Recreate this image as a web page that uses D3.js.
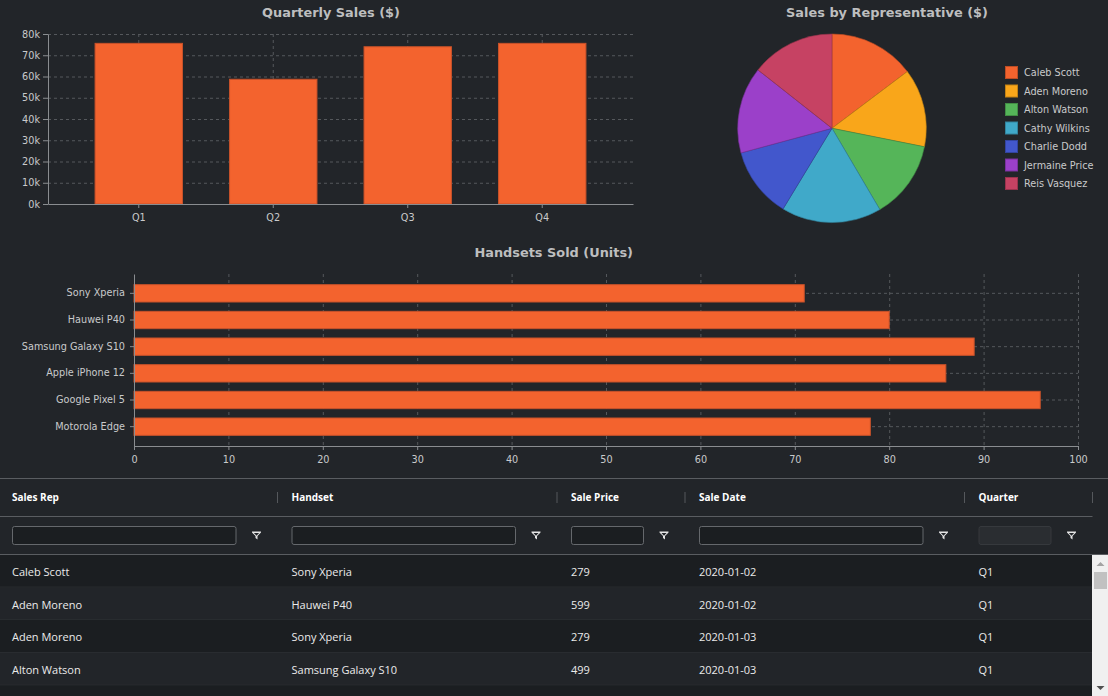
<!DOCTYPE html>
<html>
<head>
<meta charset="utf-8">
<script src="https://cdn.jsdelivr.net/npm/d3@7"></script>
<style>
  html, body { margin: 0; padding: 0; background: #222529; overflow: hidden; }
  svg { display: block; }
</style>
</head>
<body>
<svg id="dash" width="1108" height="696"></svg>
<script>
// chart values
const quarters = ["Q1", "Q2", "Q3", "Q4"];
const quarterlySales = [75600, 58700, 74000, 75600];
const salesTicks = [0, 10000, 20000, 30000, 40000, 50000, 60000, 70000, 80000];

const reps = ["Caleb Scott", "Aden Moreno", "Alton Watson", "Cathy Wilkins", "Charlie Dodd", "Jermaine Price", "Reis Vasquez"];
const repSales = [41800, 38100, 38000, 48700, 34400, 42100, 40800];
const repColors = ["#f3632e", "#f9a61a", "#55b559", "#40a9c9", "#4257cc", "#9b40c9", "#c64263"];

const handsets = ["Sony Xperia", "Hauwei P40", "Samsung Galaxy S10", "Apple iPhone 12", "Google Pixel 5", "Motorola Edge"];
const unitsSold = [71, 80, 89, 86, 96, 78];
const unitTicks = [0, 10, 20, 30, 40, 50, 60, 70, 80, 90, 100];

const columns = ["Sales Rep", "Handset", "Sale Price", "Sale Date", "Quarter"];
const rowReps = ["Caleb Scott", "Aden Moreno", "Aden Moreno", "Alton Watson"];
const rowHandsets = ["Sony Xperia", "Hauwei P40", "Sony Xperia", "Samsung Galaxy S10"];
const rowPrices = [279, 599, 279, 499];
const rowDates = ["2020-01-02", "2020-01-02", "2020-01-03", "2020-01-03"];
const rowQuarters = ["Q1", "Q1", "Q1", "Q1"];

const barColor = "#f3632e";
const gridColor = "#55585c";
const axisColor = "#8a8d90";
const labelColor = "#c9cacb";
const chartFont = "'DejaVu Sans', Verdana, sans-serif";
const tableFont = "'Open Sans', 'Noto Sans', sans-serif";

const svg = d3.select("#dash");

const title = (x, y, txt) => svg.append("text")
  .attr("x", x).attr("y", y)
  .attr("text-anchor", "middle")
  .attr("font-family", chartFont)
  .attr("font-weight", "bold")
  .attr("font-size", 12.9)
  .attr("fill", "#bdbebf")
  .text(txt);

const styleAxis = (g) => {
  g.select(".domain").attr("stroke", axisColor);
  g.selectAll(".tick line").attr("stroke", axisColor);
  g.selectAll(".tick text")
    .attr("fill", labelColor)
    .attr("font-family", chartFont)
    .attr("font-size", 9.7);
};

// ---- quarterly sales (vertical bars)
{
  const left = 48, right = 633, top = 34, bottom = 204;
  const x = d3.scaleBand().domain(quarters).range([left, right]).padding(0.35);
  const y = d3.scaleLinear().domain([0, 80000]).range([bottom, top]);

  title(331, 16.5, "Quarterly Sales ($)");

  const grid = svg.append("g").attr("stroke", gridColor).attr("stroke-dasharray", "3,3");
  grid.selectAll("line.h").data(salesTicks.slice(1)).enter().append("line")
    .attr("x1", left).attr("x2", right)
    .attr("y1", d => y(d) + 0.5).attr("y2", d => y(d) + 0.5);
  grid.selectAll("line.v").data(quarters).enter().append("line")
    .attr("x1", d => x(d) + x.bandwidth() / 2).attr("x2", d => x(d) + x.bandwidth() / 2)
    .attr("y1", top).attr("y2", bottom);

  svg.append("g").selectAll("rect").data(quarters).enter().append("rect")
    .attr("x", d => x(d))
    .attr("y", (d, i) => y(quarterlySales[i]))
    .attr("width", x.bandwidth())
    .attr("height", (d, i) => bottom - y(quarterlySales[i]))
    .attr("fill", barColor)
    .attr("stroke", "#c8522a")
    .attr("stroke-width", 1);

  svg.append("g")
    .attr("transform", "translate(0," + bottom + ")")
    .call(d3.axisBottom(x).tickSize(4).tickPadding(6).tickSizeOuter(0))
    .call(styleAxis);
  svg.append("g")
    .attr("transform", "translate(" + left + ",0)")
    .call(d3.axisLeft(y).tickValues(salesTicks).tickSize(5).tickPadding(3).tickSizeOuter(0)
      .tickFormat(d => (d / 1000) + "k"))
    .call(styleAxis);
}

// ---- sales by rep (pie)
{
  const cx = 832, cy = 128.3, r = 94.3;
  title(887, 16.5, "Sales by Representative ($)");

  const pie = d3.pie().sort(null).value(d => d);
  const arc = d3.arc().innerRadius(0).outerRadius(r);

  svg.append("g")
    .attr("transform", "translate(" + cx + "," + cy + ")")
    .selectAll("path").data(pie(repSales)).enter().append("path")
    .attr("d", arc)
    .attr("fill", (d, i) => repColors[i])
    .attr("stroke", (d, i) => d3.color(repColors[i]).darker(0.8))
    .attr("stroke-width", 0.6);

  const legend = svg.append("g").attr("transform", "translate(1005,66)");
  const item = legend.selectAll("g").data(reps).enter().append("g")
    .attr("transform", (d, i) => "translate(0," + (i * 18.5) + ")");
  item.append("rect")
    .attr("x", 0.5).attr("y", 0.5).attr("width", 12).attr("height", 12)
    .attr("fill", (d, i) => repColors[i])
    .attr("stroke", (d, i) => d3.color(repColors[i]).darker(0.7));
  item.append("text")
    .attr("x", 19).attr("y", 10)
    .attr("font-family", chartFont)
    .attr("font-size", 9.7)
    .attr("fill", labelColor)
    .text(d => d);
}

// ---- handsets sold (horizontal bars)
{
  const left = 134, right = 1078, top = 274, bottom = 446;
  const x = d3.scaleLinear().domain([0, 100]).range([left, right]);
  const y = d3.scaleBand().domain(handsets).range([top, bottom]).paddingInner(0.35).paddingOuter(0.4);

  title(553.7, 256.5, "Handsets Sold (Units)");

  const grid = svg.append("g").attr("stroke", gridColor).attr("stroke-dasharray", "3,3");
  grid.selectAll("line.v").data(unitTicks.slice(1)).enter().append("line")
    .attr("x1", d => x(d) + 0.5).attr("x2", d => x(d) + 0.5)
    .attr("y1", top).attr("y2", bottom);
  grid.selectAll("line.h").data(handsets).enter().append("line")
    .attr("x1", left).attr("x2", right)
    .attr("y1", d => y(d) + y.bandwidth() / 2).attr("y2", d => y(d) + y.bandwidth() / 2);

  svg.append("g").selectAll("rect").data(handsets).enter().append("rect")
    .attr("x", left)
    .attr("y", d => y(d))
    .attr("width", (d, i) => x(unitsSold[i]) - left)
    .attr("height", y.bandwidth())
    .attr("fill", barColor)
    .attr("stroke", "#c8522a")
    .attr("stroke-width", 1);

  svg.append("g")
    .attr("transform", "translate(0," + bottom + ")")
    .call(d3.axisBottom(x).tickValues(unitTicks).tickSize(4).tickPadding(6).tickSizeOuter(0))
    .call(styleAxis);
  svg.append("g")
    .attr("transform", "translate(" + left + ",0)")
    .call(d3.axisLeft(y).tickSize(4).tickPadding(5).tickSizeOuter(0))
    .call(styleAxis);
}

// ---- sales table
{
  const colWidths = [279.5, 279.5, 128, 279.5, 128];
  const colStarts = [];
  colWidths.reduce((acc, w) => { colStarts.push(acc); return acc + w; }, -2);
  const tableRight = 1092.5;
  const rowTop = 554.5, rowH = 32.7;
  const cells = rowReps.map((d, i) => [d, rowHandsets[i], rowPrices[i], rowDates[i], rowQuarters[i]]);

  const t = svg.append("g");

  // body rows (one extra, cut by the window)
  d3.range(cells.length + 1).forEach(i => {
    t.append("rect")
      .attr("x", 0).attr("y", rowTop + i * rowH)
      .attr("width", tableRight).attr("height", rowH)
      .attr("fill", i % 2 === 0 ? "#1b1e21" : "#222529");
    t.append("line")
      .attr("x1", 0).attr("x2", tableRight)
      .attr("y1", rowTop + (i + 1) * rowH).attr("y2", rowTop + (i + 1) * rowH)
      .attr("stroke", "#323539");
  });

  const rows = t.selectAll("g.row").data(cells).enter().append("g")
    .attr("transform", (d, i) => "translate(0," + (rowTop + i * rowH + 21.5) + ")");
  rows.selectAll("text").data(d => d).enter().append("text")
    .attr("x", (d, j) => colStarts[j] + 14)
    .attr("font-family", tableFont)
    .attr("font-size", 11)
    .attr("fill", "#ebebeb")
    .text(d => d);

  // header
  t.append("line").attr("x1", 0).attr("x2", 1108).attr("y1", 478.5).attr("y2", 478.5).attr("stroke", "#5a5d61");
  t.append("line").attr("x1", 0).attr("x2", tableRight).attr("y1", 516.5).attr("y2", 516.5).attr("stroke", "#5a5d61");
  t.append("line").attr("x1", 0).attr("x2", 1108).attr("y1", 554.5).attr("y2", 554.5).attr("stroke", "#5a5d61");

  t.selectAll("text.head").data(columns).enter().append("text")
    .attr("x", (d, j) => colStarts[j] + 14)
    .attr("y", 501)
    .attr("font-family", tableFont)
    .attr("font-weight", "bold")
    .attr("font-size", 10)
    .attr("fill", "#ffffff")
    .text(d => d);
  t.selectAll("line.sep").data(columns).enter().append("line")
    .attr("x1", (d, j) => colStarts[j] + colWidths[j]).attr("x2", (d, j) => colStarts[j] + colWidths[j])
    .attr("y1", 492).attr("y2", 503)
    .attr("stroke", "#55585c");

  // filter row
  t.selectAll("rect.input").data(columns).enter().append("rect")
    .attr("x", (d, j) => colStarts[j] + 14.5)
    .attr("y", 526.5)
    .attr("width", (d, j) => colWidths[j] - 56)
    .attr("height", 18)
    .attr("rx", 2)
    .attr("fill", (d, j) => j === 4 ? "#2a2d31" : "#1b1e21")
    .attr("stroke", (d, j) => j === 4 ? "#36393d" : "#65686c");
  t.selectAll("path.funnel").data(columns).enter().append("path")
    .attr("transform", (d, j) => "translate(" + (colStarts[j] + colWidths[j] - 21) + ",535)")
    .attr("d", "M-4.5,-3.5 L4.5,-3.5 L4.5,-2.5 L1,1 L1,4.5 L-1,3 L-1,1 L-4.5,-2.5 Z M-2.6,-2 L2.6,-2 L0,0.8 Z")
    .attr("fill", "#e6e6e6")
    .attr("fill-rule", "evenodd");

  // scrollbar
  t.append("rect").attr("x", tableRight - 0.5).attr("y", 555).attr("width", 1108 - tableRight + 0.5).attr("height", 141).attr("fill", "#f0f0f0");
  t.append("rect").attr("x", 1094).attr("y", 572).attr("width", 13).attr("height", 17).attr("fill", "#c1c1c1");
  t.append("path").attr("d", "M1096.5,566 L1100.5,562 L1104.5,566 Z").attr("fill", "#a3a3a3");
  t.append("path").attr("d", "M1096.5,686 L1100.5,690 L1104.5,686 Z").attr("fill", "#505050");
}
</script>
</body>
</html>
